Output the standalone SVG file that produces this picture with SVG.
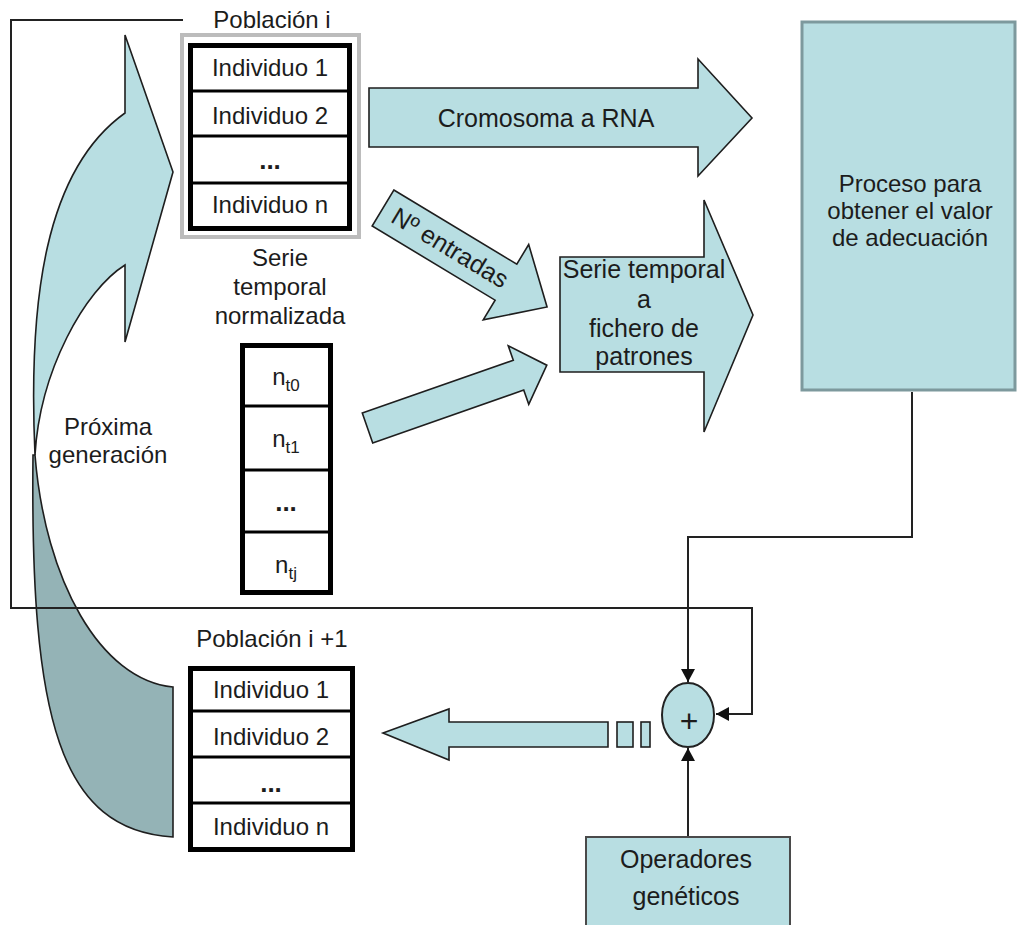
<svg xmlns="http://www.w3.org/2000/svg" width="1017" height="925" viewBox="0 0 1017 925">
  <style>
    text { font-family: "Liberation Sans", Arial, sans-serif; fill: #1c1c1c; }
    .c { text-anchor: middle; }
    .dots { font-weight: bold; font-size: 26px; }
    .blk { fill: #ffffff; stroke: #000000; stroke-width: 5; }
    .div { stroke: #000000; stroke-width: 3; fill: none; }
    .shape { fill: #b8dee2; stroke: #1e1e1e; stroke-width: 1.6; stroke-linejoin: miter; }
    .dark { fill: #94b3b6; stroke: #1e1e1e; stroke-width: 1.6; }
    .wire { fill: none; stroke: #222222; stroke-width: 2; }
  </style>
  <defs>
    <marker id="tip" markerUnits="userSpaceOnUse" markerWidth="14" markerHeight="14" refX="13" refY="7" orient="auto">
      <path d="M0,0 L13,7 L0,14 z" fill="#111111"/>
    </marker>
  </defs>

  <!-- curved "next generation" ribbon -->
  <g id="proxima-generacion">
    <path class="dark" d="M35,455 C45,580 100,680 173,687 L173,837 C60,830 30,720 33,455 Z"/>
    <path class="shape" d="M125,113 L125,35 L173,172 L125,342 L125,265 C85,290 40,370 35,455 C28,300 45,170 125,113 Z"/>
    <text class="c" x="108" y="435" font-size="24">Próxima</text>
    <text class="c" x="108" y="463" font-size="24">generación</text>
  </g>

  <!-- connectors -->
  <g id="connectors">
    <path class="wire" d="M183,20 L11,20 L11,608 L752,608 L752,714 L716,714" marker-end="url(#tip)"/>
    <path class="wire" d="M912,392 L912,537 L688,537 L688,682" marker-end="url(#tip)"/>
    <path class="wire" d="M688,837 L688,748" marker-end="url(#tip)"/>
  </g>

  <!-- population i -->
  <g id="poblacion-i">
    <text class="c" x="272" y="28" font-size="24">Población i</text>
    <rect x="182" y="35" width="177" height="202" fill="none" stroke="#bcbcbc" stroke-width="4"/>
    <rect class="blk" x="190.5" y="45.5" width="159" height="183"/>
    <line class="div" x1="190" y1="91" x2="350" y2="91"/>
    <line class="div" x1="190" y1="136" x2="350" y2="136"/>
    <line class="div" x1="190" y1="183" x2="350" y2="183"/>
    <text class="c" x="270" y="76" font-size="24">Individuo 1</text>
    <text class="c" x="270" y="124" font-size="24">Individuo 2</text>
    <text class="c dots" x="270" y="169">...</text>
    <text class="c" x="270" y="213" font-size="24">Individuo n</text>
  </g>

  <!-- normalised time series -->
  <g id="serie-normalizada">
    <text class="c" x="280" y="266" font-size="24">Serie</text>
    <text class="c" x="280" y="295" font-size="24">temporal</text>
    <text class="c" x="280" y="324" font-size="24">normalizada</text>
    <rect class="blk" x="242.5" y="345.5" width="88" height="247"/>
    <line class="div" x1="243" y1="406" x2="330" y2="406"/>
    <line class="div" x1="243" y1="470" x2="330" y2="470"/>
    <line class="div" x1="243" y1="532" x2="330" y2="532"/>
    <text class="c" x="286" y="385" font-size="24">n<tspan dy="6" font-size="17">t0</tspan></text>
    <text class="c" x="286" y="447" font-size="24">n<tspan dy="6" font-size="17">t1</tspan></text>
    <text class="c dots" x="286" y="511">...</text>
    <text class="c" x="286" y="573" font-size="24">n<tspan dy="6" font-size="17">tj</tspan></text>
  </g>

  <!-- chromosome to network arrow -->
  <g id="cromosoma-rna">
    <polygon class="shape" points="369,88 698,88 698,59 752,118 698,176 698,147 369,147"/>
    <text class="c" x="546" y="127" font-size="25">Cromosoma a RNA</text>
  </g>

  <!-- number of inputs arrow -->
  <g id="n-entradas" transform="translate(383,208) rotate(31.1)">
    <polygon class="shape" points="0,-21 143.6,-21 143.6,-44 191.6,0 143.6,44 143.6,21 0,21"/>
    <text class="c" x="78" y="8" font-size="25">Nº entradas</text>
  </g>

  <!-- time series input arrow -->
  <g id="serie-entrada" transform="translate(367.5,428) rotate(-19.3)">
    <polygon class="shape" points="0,-15.8 160,-15.8 160,-31 190,0 160,31 160,15.8 0,15.8"/>
  </g>

  <!-- time series to pattern file -->
  <g id="serie-patrones">
    <polygon class="shape" points="560,257 704,257 704,200 753,315 704,432 704,372 560,372"/>
    <text class="c" x="644" y="278" font-size="25">Serie temporal</text>
    <text class="c" x="644" y="308" font-size="25">a</text>
    <text class="c" x="644" y="337" font-size="25">fichero de</text>
    <text class="c" x="644" y="365" font-size="25">patrones</text>
  </g>

  <!-- fitness evaluation -->
  <g id="proceso-adecuacion">
    <rect x="802" y="22" width="213" height="368" fill="#b8dee2" stroke="#7d999d" stroke-width="3"/>
    <text class="c" x="910" y="192" font-size="24">Proceso para</text>
    <text class="c" x="910" y="219" font-size="24">obtener el valor</text>
    <text class="c" x="910" y="246" font-size="24">de adecuación</text>
  </g>

  <!-- combination node -->
  <g id="suma">
    <ellipse cx="688" cy="715" rx="26" ry="32" fill="#b8dee2" stroke="#222222" stroke-width="2"/>
    <text class="c" x="689" y="732" font-size="32">+</text>
  </g>

  <!-- genetic operators -->
  <g id="operadores">
    <rect x="586" y="837" width="204" height="100" fill="#b8dee2" stroke="#4a4a4a" stroke-width="2"/>
    <text class="c" x="686" y="868" font-size="25">Operadores</text>
    <text class="c" x="686" y="905" font-size="25">genéticos</text>
  </g>

  <!-- striped arrow to next population -->
  <g id="flecha-nueva-poblacion">
    <polygon class="shape" points="383,733 449,709 449,722 608,722 608,747 449,747 449,760"/>
    <rect class="shape" x="617" y="722" width="16" height="25"/>
    <rect class="shape" x="641" y="722" width="9" height="25"/>
  </g>

  <!-- population i+1 -->
  <g id="poblacion-i1">
    <text class="c" x="272" y="647" font-size="24">Población i +1</text>
    <rect class="blk" x="190.5" y="668.5" width="162" height="181"/>
    <line class="div" x1="190" y1="711" x2="353" y2="711"/>
    <line class="div" x1="190" y1="757" x2="353" y2="757"/>
    <line class="div" x1="190" y1="803" x2="353" y2="803"/>
    <text class="c" x="271" y="698" font-size="24">Individuo 1</text>
    <text class="c" x="271" y="745" font-size="24">Individuo 2</text>
    <text class="c dots" x="271" y="792">...</text>
    <text class="c" x="271" y="835" font-size="24">Individuo n</text>
  </g>
</svg>
